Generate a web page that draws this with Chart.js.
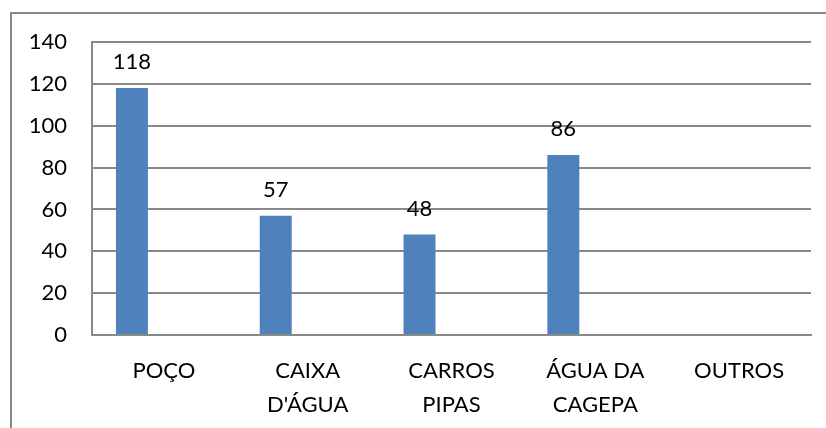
<!DOCTYPE html>
<html>
<head>
<meta charset="utf-8">
<script src="https://cdn.jsdelivr.net/npm/chart.js@4"></script>
<style>
  html, body { margin: 0; padding: 0; background: #fff; }
  #wrap { width: 826px; height: 428px; position: relative; }
</style>
</head>
<body>
<div id="wrap"><canvas id="fonteChart" width="826" height="428"></canvas></div>
<script>
// categorias e valores
const categorias = ['POÇO', ['CAIXA', "D'ÁGUA"], ['CARROS', 'PIPAS'], ['ÁGUA DA', 'CAGEPA'], 'OUTROS'];
const valores = [118, 57, 48, 86, null];
// séries vazias da planilha original (só ocupam espaço no grupo)
const serieVazia2 = [null, null, null, null, null];
const serieVazia3 = [null, null, null, null, null];
const ticksY = [0, 20, 40, 60, 80, 100, 120, 140];

const cinza = '#898989';
const azul = '#4f81bd';
const fonte = 'Lato, "Open Sans", sans-serif';

// moldura externa do gráfico
const moldura = {
    id: 'moldura',
    beforeDraw(chart) {
        const c = chart.ctx;
        c.save();
        c.strokeStyle = cinza;
        c.lineWidth = 2;
        c.strokeRect(11, 13, 1000, 1000);
        c.restore();
    }
};

// rótulos de dados acima das barras
const rotulos = {
    id: 'rotulos',
    afterDatasetsDraw(chart) {
        const c = chart.ctx;
        const meta = chart.getDatasetMeta(0);
        c.save();
        c.font = '22px ' + fonte;
        c.fillStyle = '#000';
        c.textAlign = 'center';
        c.textBaseline = 'alphabetic';
        meta.data.forEach((bar, i) => {
            if (valores[i] == null) return;
            c.fillText(String(valores[i]), bar.x, bar.y - 19);
        });
        c.restore();
    }
};

const ctx = document.getElementById('fonteChart').getContext('2d');
new Chart(ctx, {
    type: 'bar',
    data: {
        labels: categorias,
        datasets: [
            { label: 'Série 1', data: valores, backgroundColor: azul },
            { label: 'Série 2', data: serieVazia2, backgroundColor: azul },
            { label: 'Série 3', data: serieVazia3, backgroundColor: azul }
        ]
    },
    options: {
        responsive: false,
        animation: false,
        events: [],
        categoryPercentage: 0.667,
        barPercentage: 1,
        layout: { padding: { top: 42, right: 15, left: 0, bottom: 0 } },
        plugins: { legend: { display: false }, tooltip: { enabled: false } },
        scales: {
            x: {
                grid: { display: false, drawTicks: false },
                border: { display: true, color: cinza, width: 2 },
                ticks: {
                    color: '#000',
                    font: { family: fonte, size: 22, lineHeight: '34px' },
                    padding: 19,
                    maxRotation: 0,
                    autoSkip: false
                },
                afterFit(scale) { scale.height = 93; }
            },
            y: {
                min: 0,
                max: 140,
                afterBuildTicks(scale) { scale.ticks = ticksY.map(v => ({ value: v })); },
                grid: { color: cinza, lineWidth: 2, drawTicks: false },
                border: { display: true, color: cinza, width: 2 },
                ticks: {
                    color: '#000',
                    font: { family: fonte, size: 22 },
                    padding: 25
                },
                afterFit(scale) { scale.width = 92; }
            }
        }
    },
    plugins: [moldura, rotulos]
});
</script>
</body>
</html>
